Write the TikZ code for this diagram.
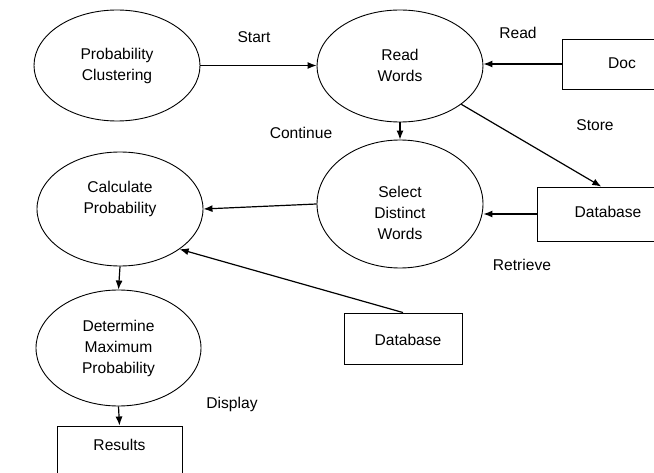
\documentclass[tikz,border=0pt]{standalone}
\usepackage{fontspec}
\setmainfont{Liberation Sans}
\usetikzlibrary{shapes.geometric,arrows.meta,calc}
\begin{document}
\begin{tikzpicture}[x=1pt,y=-1pt,
  every node/.style={font=\fontsize{15.6}{21}\selectfont},
  proc/.style={draw,ellipse,line width=0.9pt,inner sep=0pt},
  store/.style={draw,rectangle,line width=0.9pt,inner sep=0pt},
  txt/.style={align=center,inner sep=0pt},
  flow/.style={line width=1.2pt,-{Latex[length=9pt,width=7pt]}}]
\useasboundingbox (0,0) rectangle (654,473);
\clip (0,0) rectangle (654,473);
\fill[white] (0,0) rectangle (654,473);

% processes
\node[proc,minimum width=166,minimum height=111] (PC) at (117,65.5) {};
\node[txt] (PCt) at (117,65.5) {Probability\\Clustering};
\node[proc,minimum width=166,minimum height=112] (RW) at (400,66) {};
\node[txt] (RWt) at (400,65) {Read\\Words};
\node[proc,minimum width=166,minimum height=128] (Sel) at (400,204) {};
\node[txt] (Selt) at (400,213) {Select\\Distinct\\Words};
\node[proc,minimum width=166,minimum height=114] (Calc) at (120,209) {};
\node[txt] (Calct) at (120,199) {Calculate\\Probability};
\node[proc,minimum width=165,minimum height=116] (Det) at (118.5,348) {};
\node[txt] (Dett) at (118.5,348) {Determine\\Maximum\\Probability};

% stores
\node[store,minimum width=120,minimum height=50] (Doc) at (622,64) {};
\node[txt] (Doct) at (622,63) {Doc};
\node[store,minimum width=143,minimum height=54] (DB1) at (608.5,214) {};
\node[txt] (DB1t) at (608,212) {Database};
\node[store,minimum width=118,minimum height=51] (DB2) at (403,338.5) {};
\node[txt] (DB2t) at (408,340) {Database};
\node[store,minimum width=125,minimum height=64] (Res) at (119.5,458) {};
\node[txt] (Rest) at (119.5,445) {Results};

% flows
\draw[flow] (PC.east) -- (PC.east -| RW.west);
\draw[flow] (Doc.west) -- (Doc.west -| RW.east);
\draw[flow] (RW.south) -- (Sel.north);
\draw[flow] (RW.-32) -- ($(DB1.north west)!0.45!(DB1.north east)$);
\draw[flow] (DB1.west) -- (DB1.west -| Sel.east);
\draw[flow] (Sel.west) -- (Calc.east);
\draw[flow] (DB2.north) -- (Calc.-34);
\draw[flow] (Calc.south) -- (Det.north);
\draw[flow] (Det.south) -- (Res.north);

% flow labels
\node[txt] (lStart) at (254,37) {Start};
\node[txt] (lRead) at (518,33) {Read};
\node[txt] (lCont) at (301,133) {Continue};
\node[txt] (lStore) at (595,125) {Store};
\node[txt] (lRetr) at (522,265) {Retrieve};
\node[txt] (lDisp) at (232,404) {Display};
\end{tikzpicture}
\end{document}
